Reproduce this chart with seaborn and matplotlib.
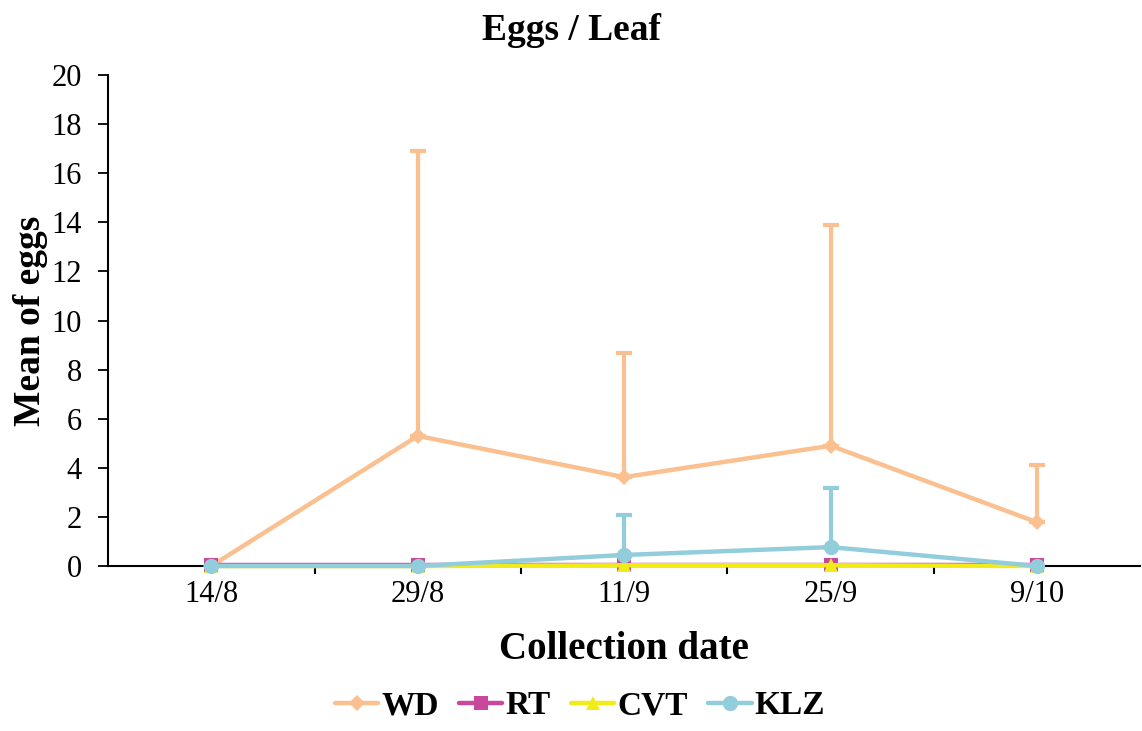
import numpy as np
import pandas as pd
import matplotlib.pyplot as plt
import seaborn as sns

# datos
fechas = ["14/8", "29/8", "11/9", "25/9", "9/10"]
wd = [0.0, 5.3, 3.62, 4.9, 1.78]
wd_err = [0.0, 11.6, 5.05, 9.0, 2.35]
rt = [0.05, 0.05, 0.05, 0.05, 0.05]
cvt = [0.0, 0.0, 0.03, 0.03, 0.0]
klz = [0.0, 0.0, 0.45, 0.77, 0.0]
klz_err = [0.0, 0.0, 1.62, 2.42, 0.0]

series = ["WD", "RT", "CVT", "KLZ"]
colores = {"WD": "#FAC090", "RT": "#C9479C", "CVT": "#F2EB1A", "KLZ": "#92CDDC"}
marcadores = {"WD": "D", "RT": "s", "CVT": "^", "KLZ": "o"}
tam_marcador = {"WD": 8, "RT": 10, "CVT": 10, "KLZ": 11}

df = pd.DataFrame({
    "pos": np.tile(np.arange(len(fechas)), len(series)),
    "fecha": fechas * len(series),
    "serie": np.repeat(series, len(fechas)),
    "valor": wd + rt + cvt + klz,
    "error": wd_err + [0.0] * 5 + [0.0] * 5 + klz_err,
})

sns.set_theme(style="white")
plt.rcParams["font.family"] = ["Liberation Serif", "DejaVu Serif"]
plt.rcParams["text.color"] = "black"
plt.rcParams["axes.labelcolor"] = "black"
plt.rcParams["xtick.color"] = "black"
plt.rcParams["ytick.color"] = "black"

fig = plt.figure(figsize=(11.42, 7.31), dpi=100)
ax = fig.add_axes([0.0946, 0.2257, 0.904, 0.6717])

for i, s in enumerate(series):
    sub = df[df["serie"] == s]
    sns.lineplot(data=sub, x="pos", y="valor", ax=ax, color=colores[s],
                 marker=marcadores[s], markersize=tam_marcador[s],
                 markeredgewidth=0, linewidth=3.2, label=s, zorder=3 + i,
                 clip_on=False)
    con_error = sub[sub["error"] > 0]
    if len(con_error):
        ax.errorbar(con_error["pos"], con_error["valor"],
                    yerr=[np.zeros(len(con_error)), con_error["error"]],
                    fmt="none", ecolor=colores[s], elinewidth=3,
                    capsize=6, capthick=3, zorder=3 + i)

ax.set_xlim(-0.5, len(fechas) - 0.5)
ax.set_ylim(0, 20)
ax.set_yticks(range(0, 21, 2))
ax.set_xticks(range(len(fechas)))
ax.set_xticklabels(fechas)
ax.set_xticks(np.arange(0.5, len(fechas) - 0.5, 1), minor=True)
ax.tick_params(axis="x", which="major", length=0, labelsize=22, pad=10)
ax.tick_params(axis="x", which="minor", bottom=True, length=6, width=1.5)
ax.tick_params(axis="y", left=True, length=7, width=1.3, labelsize=22, pad=12)

for lado in ["top", "right"]:
    ax.spines[lado].set_visible(False)
for lado in ["left", "bottom"]:
    ax.spines[lado].set_color("black")
    ax.spines[lado].set_linewidth(1.5)
ax.spines["bottom"].set_zorder(2)

ax.set_xlabel("Collection date", fontsize=28, fontweight="bold", labelpad=16)
ax.set_ylabel("Mean of eggs", fontsize=27, fontweight="bold", labelpad=2)
fig.suptitle("Eggs / Leaf", x=0.5, y=0.982, fontsize=27, fontweight="bold")

ax.get_legend().remove()
handles, labels = ax.get_legend_handles_labels()
fig.legend(handles, labels, loc="lower center", bbox_to_anchor=(0.508, -0.028),
           ncol=4, frameon=False, handlelength=1.3, handletextpad=0.1,
           columnspacing=0.6, prop={"size": 24, "weight": "bold"})

fig.savefig("out.png", dpi=100)
